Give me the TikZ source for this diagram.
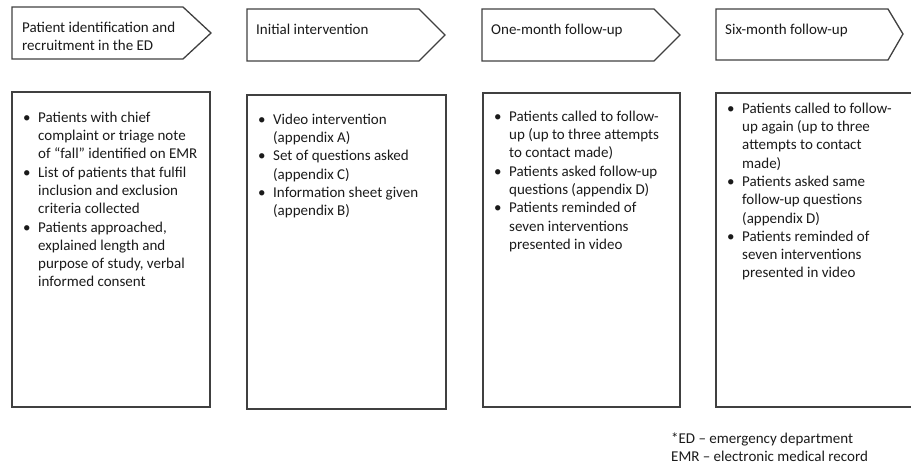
\documentclass[tikz,border=0pt]{standalone}
\usepackage{fontspec}
\setmainfont{Carlito}
\definecolor{linec}{HTML}{404040}
\definecolor{textc}{HTML}{1A1A1A}
\newcommand\bl{\makebox[15pt][l]{•}}
\newcommand\ind{\hspace*{15pt}}
\tikzset{
  shapeline/.style={draw=linec, line width=1.3pt, line join=miter},
  txt/.style={anchor=north west, inner sep=0pt, align=left, text=textc,
    font=\fontsize{15}{18.3}\selectfont},
}
\begin{document}
\begin{tikzpicture}[x=1pt,y=-1pt]
\useasboundingbox (0,0) rectangle (911,466);
% header pentagons
\draw[shapeline] (12,7) -- (183,7) -- (211,33) -- (183,59) -- (12,59) -- cycle;
\draw[shapeline] (247,9) -- (419,9) -- (445,35) -- (419,61) -- (247,61) -- cycle;
\draw[shapeline] (482,9) -- (654,9) -- (680,35) -- (654,61) -- (482,61) -- cycle;
\draw[shapeline] (716,9) -- (888,9) -- (903,34) -- (888,60) -- (716,60) -- cycle;
% boxes
\draw[shapeline] (12,92) rectangle (210,407);
\draw[shapeline] (247,95) rectangle (446,409);
\draw[shapeline] (483,93) rectangle (680,407);
\draw[shapeline] (915,93) -- (716,93) -- (716,407) -- (915,407);
% header texts
\node[txt] (h1) at (22,32-12.81) {\strut Patient identification and\\recruitment in the ED};
\node[txt] (h2) at (256,34-12.81) {\strut Initial intervention};
\node[txt] (h3) at (491,34-12.81) {\strut One-month follow-up};
\node[txt] (h4) at (725,34-12.81) {\strut Six-month follow-up};
% box texts
\node[txt] (b1) at (23,122-12.81) {\strut\bl Patients with chief\\
\ind complaint or triage note\\
\ind of “fall” identified on EMR\\
\bl List of patients that fulfil\\
\ind inclusion and exclusion\\
\ind criteria collected\\
\bl Patients approached,\\
\ind explained length and\\
\ind purpose of study, verbal\\
\ind informed consent};
\node[txt] (b2) at (258,124-12.81) {\strut\bl Video intervention\\
\ind (appendix A)\\
\bl Set of questions asked\\
\ind (appendix C)\\
\bl Information sheet given\\
\ind (appendix B)};
\node[txt] (b3) at (494,121-12.81) {\strut\bl Patients called to follow-\\
\ind up (up to three attempts\\
\ind to contact made)\\
\bl Patients asked follow-up\\
\ind questions (appendix D)\\
\bl Patients reminded of\\
\ind seven interventions\\
\ind presented in video};
\node[txt] (b4) at (727,113-12.81) {\strut\bl Patients called to follow-\\
\ind up again (up to three\\
\ind attempts to contact\\
\ind made)\\
\bl Patients asked same\\
\ind follow-up questions\\
\ind (appendix D)\\
\bl Patients reminded of\\
\ind seven interventions\\
\ind presented in video};
% footnote
\node[txt] (fn) at (671,443-12.81) {\strut *ED – emergency department\\EMR – electronic medical record};
\end{tikzpicture}
\end{document}
